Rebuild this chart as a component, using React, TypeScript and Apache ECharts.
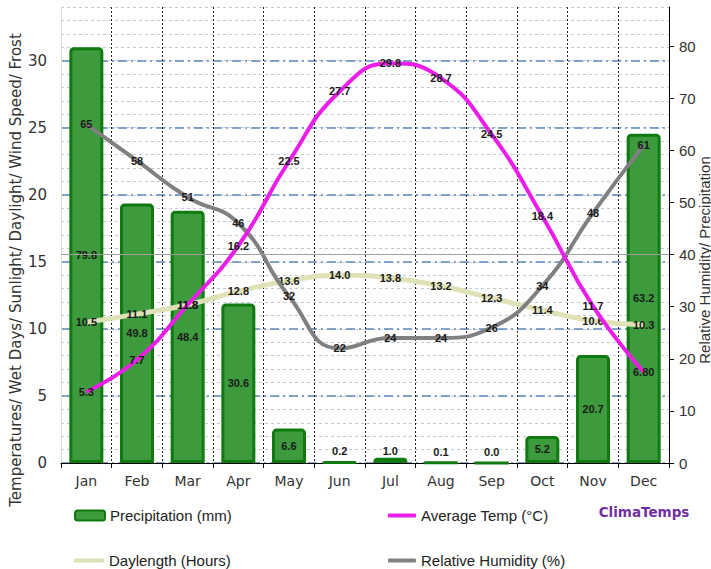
import React, { useEffect, useRef } from "react";
import * as echarts from "echarts";

const months = ["Jan", "Feb", "Mar", "Apr", "May", "Jun", "Jul", "Aug", "Sep", "Oct", "Nov", "Dec"];
const precipitation = [79.8, 49.8, 48.4, 30.6, 6.6, 0.2, 1.0, 0.1, 0.0, 5.2, 20.7, 63.2];
const avgTemp = [5.3, 7.7, 11.8, 16.2, 22.5, 27.7, 29.8, 28.7, 24.5, 18.4, 11.7, 6.8];
const avgTempLabels = ["5.3", "7.7", "11.8", "16.2", "22.5", "27.7", "29.8", "28.7", "24.5", "18.4", "11.7", "6.80"];
const daylength = [10.5, 11.1, 11.8, 12.8, 13.6, 14.0, 13.8, 13.2, 12.3, 11.4, 10.6, 10.3];
const humidity = [65, 58, 51, 46, 32, 22, 24, 24, 26, 34, 48, 61];

const leftMax = 34;
const rightMax = 87.5;
const humidityRefLine = 40;

const leftTitle = "Temperatures/ Wet Days/ Sunlight/ Daylight/ Wind Speed/ Frost";
const rightTitle = "Relative Humidity/ Precipitation";
const brand = "ClimaTemps";

const labelStyle = {
  color: "#1a1a1a",
  fontSize: 11,
  fontWeight: "bold" as const,
  fontFamily: "Liberation Sans",
};

export default function App() {
  const ref = useRef<HTMLDivElement>(null);
  useEffect(() => {
    if (!ref.current) return;
    const chart = echarts.init(ref.current, undefined, { renderer: "svg" });
    const legendText = { fontFamily: "Liberation Sans", fontSize: 15, color: "#222" };
    const option: any = {
      animation: false,
      backgroundColor: "#fff",
      grid: { left: 61, right: 42, top: 7, bottom: 106, containLabel: false },
      xAxis: {
        type: "category",
        data: months,
        boundaryGap: true,
        axisLine: { show: true, lineStyle: { color: "#000", width: 1 } },
        axisTick: { show: true, length: 5, lineStyle: { color: "#000" } },
        axisLabel: { color: "#333", fontFamily: "DejaVu Sans", fontSize: 14, margin: 11 },
        splitLine: {
          show: true,
          interval: (i: number) => i > 0,
          lineStyle: { color: "#222", type: [2, 2], width: 1 },
        },
      },
      yAxis: [
        {
          type: "value",
          min: 0,
          max: leftMax,
          interval: 1,
          position: "left",
          axisLine: { show: false },
          axisTick: { show: false },
          axisLabel: { show: false },
          splitLine: { show: true, lineStyle: { color: "#c2cad6", type: [3, 3], width: 1 } },
        },
        {
          type: "value",
          min: 0,
          max: leftMax,
          interval: 5,
          position: "left",
          axisLine: { show: true, lineStyle: { color: "#d3e3d3" } },
          axisTick: { show: false },
          axisLabel: {
            showMaxLabel: false,
            color: "#333",
            fontFamily: "DejaVu Sans",
            fontSize: 15,
            margin: 14,
          },
          splitLine: {
            show: true,
            showMaxLine: false,
            lineStyle: { color: "#5e88bb", type: [9, 4, 2, 4], width: 1.5 },
          },
        },
        {
          type: "value",
          min: 0,
          max: rightMax,
          interval: 10,
          position: "right",
          axisLine: { show: true, lineStyle: { color: "#000" } },
          axisTick: { show: true, length: 5, lineStyle: { color: "#000" } },
          axisLabel: {
            showMaxLabel: false,
            color: "#333",
            fontFamily: "Liberation Sans",
            fontSize: 15,
            margin: 10,
          },
          splitLine: { show: false },
        },
      ],
      legend: [
        {
          data: ["Precipitation (mm)"],
          left: 74,
          top: 508,
          padding: 0,
          icon: "roundRect",
          itemWidth: 30,
          itemHeight: 10,
          textStyle: legendText,
        },
        {
          data: ["Average Temp (°C)"],
          left: 388,
          top: 508,
          padding: 0,
          icon: "roundRect",
          itemWidth: 28,
          itemHeight: 4,
          textStyle: legendText,
        },
        {
          data: ["Daylength (Hours)"],
          left: 74,
          top: 553,
          padding: 0,
          icon: "roundRect",
          itemWidth: 30,
          itemHeight: 4,
          textStyle: legendText,
        },
        {
          data: ["Relative Humidity (%)"],
          left: 388,
          top: 553,
          padding: 0,
          icon: "roundRect",
          itemWidth: 28,
          itemHeight: 4,
          textStyle: legendText,
        },
      ],
      graphic: [
        {
          type: "text",
          x: 16,
          y: 270,
          rotation: Math.PI / 2,
          style: {
            text: leftTitle,
            fontFamily: "DejaVu Sans",
            fontSize: 15,
            fill: "#333",
            align: "center",
            verticalAlign: "middle",
          },
        },
        {
          type: "text",
          x: 704,
          y: 260,
          rotation: Math.PI / 2,
          style: {
            text: rightTitle,
            fontFamily: "Liberation Sans",
            fontSize: 15,
            fill: "#333",
            align: "center",
            verticalAlign: "middle",
          },
        },
        {
          type: "text",
          x: 644,
          y: 512,
          style: {
            text: brand,
            fontFamily: "DejaVu Sans",
            fontSize: 13.5,
            fontWeight: "bold",
            fill: "#7030a0",
            align: "center",
            verticalAlign: "middle",
          },
        },
      ],
      series: [
        {
          name: "Precipitation (mm)",
          type: "bar",
          yAxisIndex: 2,
          barWidth: 34,
          data: precipitation.map((v) =>
            v < 5 ? { value: v, label: { position: "insideBottom", distance: 7 } } : { value: v }
          ),
          itemStyle: {
            color: "#3d9a3d",
            borderColor: "#0f7a10",
            borderWidth: 3,
            borderRadius: [3, 3, 0, 0],
          },
          label: {
            show: true,
            position: "inside",
            formatter: (p: any) => Number(p.value).toFixed(1),
            ...labelStyle,
          },
          z: 2,
        },
        {
          name: "Daylength (Hours)",
          type: "line",
          yAxisIndex: 1,
          data: daylength,
          smooth: true,
          symbol: "circle",
          symbolSize: 1,
          lineStyle: { color: "#dfe2b6", width: 5 },
          itemStyle: { color: "#dfe2b6" },
          label: {
            show: true,
            position: "inside",
            formatter: (p: any) => Number(p.value).toFixed(1),
            ...labelStyle,
          },
          z: 3,
        },
        {
          name: "Relative Humidity (%)",
          type: "line",
          yAxisIndex: 2,
          data: humidity,
          smooth: true,
          symbol: "circle",
          symbolSize: 1,
          lineStyle: { color: "#808080", width: 4 },
          itemStyle: { color: "#808080" },
          label: {
            show: true,
            position: "inside",
            formatter: (p: any) => String(p.value),
            ...labelStyle,
          },
          markLine: {
            silent: true,
            symbol: "none",
            label: { show: false },
            lineStyle: { color: "#a0a0a0", type: "solid", width: 1 },
            data: [{ yAxis: humidityRefLine }],
          },
          z: 4,
        },
        {
          name: "Average Temp (°C)",
          type: "line",
          yAxisIndex: 1,
          data: avgTemp,
          smooth: true,
          symbol: "circle",
          symbolSize: 1,
          lineStyle: { color: "#ea1ee8", width: 4 },
          itemStyle: { color: "#ea1ee8" },
          label: {
            show: true,
            position: "inside",
            formatter: (p: any) => avgTempLabels[p.dataIndex],
            ...labelStyle,
          },
          z: 5,
        },
      ],
    };
    chart.setOption(option);
    return () => chart.dispose();
  }, []);
  return (
    <div
      ref={ref}
      style={{ position: "absolute", left: 0, top: 0, width: 711, height: 569 }}
    />
  );
}
